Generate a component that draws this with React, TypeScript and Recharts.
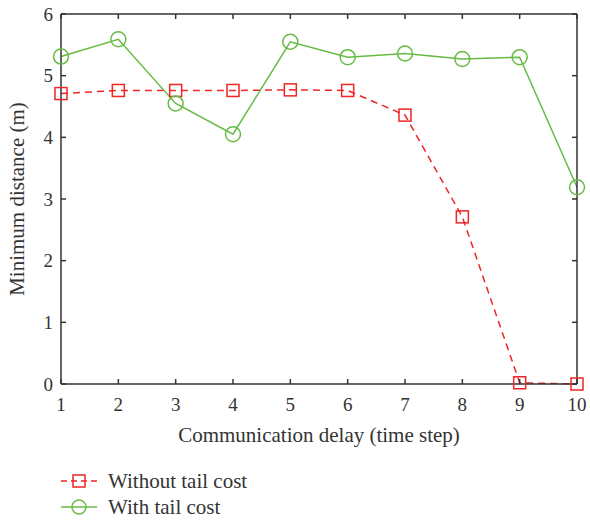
import React from 'react';
import { LineChart, Line, XAxis, YAxis, Legend } from 'recharts';

const delays = [1, 2, 3, 4, 5, 6, 7, 8, 9, 10];
const withoutTail = [4.71, 4.76, 4.76, 4.76, 4.77, 4.76, 4.36, 2.71, 0.02, 0.0];
const withTail = [5.31, 5.59, 4.55, 4.05, 5.55, 5.3, 5.36, 5.27, 5.3, 3.19];
const xTicks = [1, 2, 3, 4, 5, 6, 7, 8, 9, 10];
const yTicks = [0, 1, 2, 3, 4, 5, 6];

const data = delays.map((d, i) => ({ d, without: withoutTail[i], with: withTail[i] }));

const FONT = '"Liberation Serif", "DejaVu Serif", serif';
const TXT = '#333';
const RED = '#ee2626';
const GREEN = '#66bb44';
const AX = '#333';
const TICK_FS = 19;
const TITLE_FS = 21;

const Square = (props: any) => {
  const { cx, cy } = props;
  if (cx == null || cy == null) return null;
  return <rect x={cx - 6} y={cy - 6} width={12} height={12} fill="none" stroke={RED} strokeWidth={1.5} />;
};

const Circle = (props: any) => {
  const { cx, cy } = props;
  if (cx == null || cy == null) return null;
  return <circle cx={cx} cy={cy} r={7.5} fill="none" stroke={GREEN} strokeWidth={1.5} />;
};

const LegendContent = () => (
  <div style={{ height: 70, fontFamily: FONT, fontSize: TITLE_FS, color: TXT }}>
    <div style={{ height: 17 }} />
    {[
      { label: 'Without tail cost', color: RED, dash: '6 4', shape: 'sq' },
      { label: 'With tail cost', color: GREEN, dash: undefined, shape: 'ci' },
    ].map((it) => (
      <div key={it.label} style={{ display: 'flex', alignItems: 'center', height: 26 }}>
        <svg width={47} height={20} style={{ marginLeft: 61 }}>
          <line x1={0} y1={10} x2={36} y2={10} stroke={it.color} strokeWidth={1.5} strokeDasharray={it.dash} />
          {it.shape === 'sq' ? (
            <rect x={12} y={4} width={12} height={12} fill="none" stroke={it.color} strokeWidth={1.5} />
          ) : (
            <circle cx={18} cy={10} r={7} fill="none" stroke={it.color} strokeWidth={1.5} />
          )}
        </svg>
        <span style={{ lineHeight: '20px' }}>{it.label}</span>
      </div>
    ))}
  </div>
);

export default function App() {
  return (
    <div style={{ position: 'absolute', left: 0, top: 0, width: 590, height: 521, background: '#fff' }}>
      <LineChart width={590} height={521} data={data} margin={{ top: 13, right: 12, left: 0, bottom: 0 }}>
        <XAxis
          dataKey="d"
          type="number"
          domain={[1, 10]}
          ticks={xTicks}
          interval={0}
          height={67}
          tickSize={-5}
          tickMargin={19}
          stroke={AX}
          strokeWidth={1.5}
          tick={{ fill: TXT, fontSize: TICK_FS, fontFamily: FONT }}
          label={{ value: 'Communication delay (time step)', position: 'insideBottom', offset: 9, fill: TXT, fontSize: TITLE_FS, fontFamily: FONT }}
        />
        <XAxis
          xAxisId="top"
          orientation="top"
          dataKey="d"
          type="number"
          domain={[1, 10]}
          ticks={xTicks}
          interval={0}
          height={1}
          tickSize={-5}
          stroke={AX}
          strokeWidth={1.5}
          tickFormatter={() => ''}
        />
        <YAxis
          type="number"
          domain={[0, 6]}
          ticks={yTicks}
          interval={0}
          width={61}
          tickSize={-5}
          tickMargin={13}
          stroke={AX}
          strokeWidth={1.5}
          tick={{ fill: TXT, fontSize: TICK_FS, fontFamily: FONT }}
          label={{ value: 'Minimum distance (m)', angle: -90, position: 'insideLeft', offset: 17, fill: TXT, fontSize: TITLE_FS, fontFamily: FONT, style: { textAnchor: 'middle' } }}
        />
        <YAxis
          yAxisId="right"
          orientation="right"
          type="number"
          domain={[0, 6]}
          ticks={yTicks}
          interval={0}
          width={1}
          tickSize={-5}
          stroke={AX}
          strokeWidth={1.5}
          tickFormatter={() => ''}
        />
        <Legend verticalAlign="bottom" align="left" wrapperStyle={{ left: 0, bottom: 0 }} content={<LegendContent />} />
        <Line
          xAxisId="top"
          yAxisId="right"
          dataKey="with"
          stroke="none"
          dot={false}
          activeDot={false}
          legendType="none"
          isAnimationActive={false}
        />
        <Line
          dataKey="without"
          name="Without tail cost"
          stroke={RED}
          strokeWidth={1.5}
          strokeDasharray="7 5"
          dot={<Square />}
          isAnimationActive={false}
        />
        <Line
          dataKey="with"
          name="With tail cost"
          stroke={GREEN}
          strokeWidth={1.5}
          dot={<Circle />}
          isAnimationActive={false}
        />
      </LineChart>
    </div>
  );
}
